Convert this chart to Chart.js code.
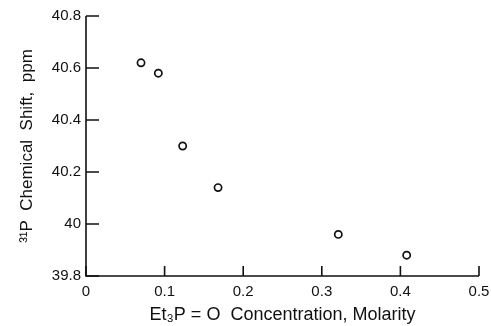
<!DOCTYPE html>
<html>
<head>
<meta charset="utf-8">
<script src="https://cdn.jsdelivr.net/npm/chart.js@4"></script>
<style>
  html, body { margin: 0; padding: 0; background: #fff; }
  #wrap { width: 491px; height: 326px; }
</style>
</head>
<body>
<div id="wrap"><canvas id="chart"></canvas></div>
<script>
// values
const concentration = [0.070, 0.092, 0.123, 0.168, 0.321, 0.408];
const shift = [40.62, 40.58, 40.30, 40.14, 39.96, 39.88];
const xTicks = [0, 0.1, 0.2, 0.3, 0.4, 0.5];
const yTicks = [39.8, 40, 40.2, 40.4, 40.6, 40.8];

const FONT = "'Liberation Sans', Arial, sans-serif";

// ticks drawn inward from the axis lines
const inwardTicks = {
    id: "inwardTicks",
    afterDraw(chart) {
        let ctx = chart.ctx;
        let xs = chart.scales.x;
        let ys = chart.scales.y;
        let area = chart.chartArea;
        ctx.save();
        ctx.strokeStyle = "#111";
        ctx.lineWidth = 1.6;
        ctx.beginPath();
        ctx.moveTo(area.left, area.top);
        ctx.lineTo(area.left, area.bottom);
        ctx.lineTo(area.right, area.bottom);
        ctx.stroke();
        ctx.beginPath();
        xTicks.forEach(v => {
            let px = xs.getPixelForValue(v);
            ctx.moveTo(px, area.bottom);
            ctx.lineTo(px, area.bottom - 10);
        });
        yTicks.forEach(v => {
            let py = ys.getPixelForValue(v);
            ctx.moveTo(area.left, py);
            ctx.lineTo(area.left + 13, py);
        });
        ctx.stroke();
        ctx.restore();
    }
};

new Chart(document.getElementById("chart"), {
    type: "scatter",
    data: {
        datasets: [{
            data: concentration.map((c, i) => ({ x: c, y: shift[i] })),
            pointStyle: "circle",
            pointRadius: 3.6,
            pointBorderWidth: 1.7,
            pointBorderColor: "#111",
            pointBackgroundColor: "#fff"
        }]
    },
    options: {
        responsive: true,
        maintainAspectRatio: false,
        animation: false,
        layout: { padding: { top: 16, right: 12, left: 17, bottom: 0 } },
        plugins: { legend: { display: false }, tooltip: { enabled: false } },
        scales: {
            x: {
                type: "linear",
                min: 0,
                max: 0.5,
                afterBuildTicks: s => { s.ticks = xTicks.map(v => ({ value: v })); },
                afterFit: s => { s.height = 50; s.paddingLeft = 0; s.paddingRight = 0; },
                border: { display: false },
                grid: { display: false, drawTicks: false },
                ticks: {
                    color: "#111",
                    padding: 7,
                    font: { family: FONT, size: 15 },
                    callback: v => String(v)
                },
                title: {
                    display: true,
                    text: "Et\u2083P = O  Concentration, Molarity",
                    color: "#111",
                    font: { family: FONT, size: 18 },
                    padding: { top: 3, bottom: 0 }
                }
            },
            y: {
                type: "linear",
                min: 39.8,
                max: 40.8,
                afterBuildTicks: s => { s.ticks = yTicks.map(v => ({ value: v })); },
                afterFit: s => { s.width = 69; s.paddingTop = 0; s.paddingBottom = 0; },
                border: { display: false },
                grid: { display: false, drawTicks: false },
                ticks: {
                    color: "#111",
                    padding: 5,
                    font: { family: FONT, size: 15 },
                    callback: v => String(Math.round(v * 10) / 10)
                },
                title: {
                    display: true,
                    text: "\u00b3\u00b9P  Chemical  Shift,  ppm",
                    color: "#111",
                    font: { family: FONT, size: 17 },
                    padding: { top: 0, bottom: 0 }
                }
            }
        }
    },
    plugins: [inwardTicks]
});
</script>
</body>
</html>
